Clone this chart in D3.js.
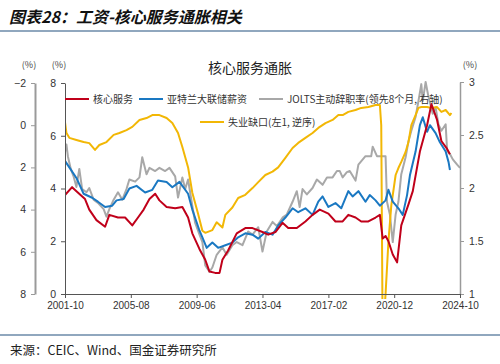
<!DOCTYPE html>
<html><head><meta charset="utf-8">
<script src="https://cdn.jsdelivr.net/npm/d3@7"></script>
<style>
body{margin:0;background:#fff;}
svg{display:block;font-family:"Noto Sans CJK SC","Noto Sans",sans-serif;}
</style></head>
<body><svg id="c" width="500" height="364"></svg>
<script>
// ---- data ----
const redDates = ["2001-10","2002-03","2002-06","2002-12","2003-03","2003-08","2004-02","2004-05","2004-11","2005-04","2005-09","2006-01","2006-05","2006-09","2007-01","2007-04","2007-09","2008-03","2008-08","2008-12","2009-03","2009-08","2009-12","2010-03","2010-07","2010-10","2010-12","2011-04","2011-10","2012-04","2012-09","2013-04","2013-08","2014-01","2014-06","2014-10","2015-04","2015-10","2016-03","2016-08","2017-02","2017-07","2017-12","2018-04","2018-09","2019-01","2019-06","2019-11","2020-02","2020-04","2020-06","2020-08","2020-11","2021-02","2021-05","2021-10","2022-01","2022-06","2022-11","2023-02","2023-06","2023-09","2024-01","2024-03"];
const redValues = [3.75,4.05,3.9,3.6,3.2,2.8,2.55,3.0,2.9,2.9,2.6,2.9,3.2,3.6,3.8,3.55,3.3,3.25,3.3,2.9,2.3,1.7,1.3,0.85,0.8,0.8,1.3,1.65,2.3,2.5,2.5,2.35,2.25,2.35,2.7,2.5,2.5,2.75,3.0,3.2,3.05,2.75,2.75,3.0,2.9,2.75,2.75,2.9,3.0,2.1,2.2,2.0,1.5,1.2,2.6,3.4,3.9,5.4,6.4,7.2,6.6,5.8,5.5,5.3];

const blueDates = ["2001-10","2002-01","2002-06","2002-11","2003-05","2003-09","2004-02","2004-07","2004-10","2005-03","2005-07","2005-12","2006-06","2006-11","2007-03","2007-09","2008-01","2008-06","2008-12","2009-03","2009-08","2009-10","2010-01","2010-05","2010-09","2011-02","2011-07","2011-11","2012-04","2012-09","2013-01","2013-06","2013-11","2014-03","2014-08","2015-01","2015-05","2015-10","2016-03","2016-07","2016-10","2017-02","2017-07","2017-11","2018-04","2018-07","2018-11","2019-04","2019-07","2019-11","2020-02","2020-06","2020-08","2020-11","2021-03","2021-06","2021-09","2021-11","2022-03","2022-06","2022-08","2022-11","2023-01","2023-05","2023-08","2023-12","2024-02","2024-03"];
const blueValues = [5.05,4.8,4.4,3.8,3.65,3.5,3.3,3.35,3.55,3.6,4.0,4.1,3.85,3.95,4.3,4.25,4.05,4.25,3.8,3.2,2.4,2.15,1.75,1.95,1.75,1.85,1.95,2.15,2.3,2.25,2.1,2.35,2.25,2.6,2.9,3.25,3.1,3.25,3.0,3.5,3.7,3.3,3.45,3.25,3.9,3.7,3.9,3.5,3.75,3.55,3.35,3.55,3.95,3.5,3.25,3.0,3.75,4.5,5.4,6.4,6.7,6.15,6.4,6.1,5.75,5.4,5.0,4.7];

const yellowDates = ["2001-10","2001-11","2002-01","2002-06","2002-11","2003-03","2003-07","2003-10","2004-03","2004-08","2004-12","2005-05","2005-09","2006-02","2006-07","2006-11","2007-04","2007-09","2008-01","2008-05","2008-08","2008-12","2009-03","2009-07","2009-10","2009-12","2010-05","2010-08","2010-12","2011-02","2011-07","2011-11","2012-04","2012-09","2013-01","2013-06","2013-11","2014-03","2014-08","2015-01","2015-05","2015-10","2016-03","2016-07","2016-12","2017-05","2017-09","2017-12","2018-04","2018-09","2019-01","2019-06","2019-11","2020-02","2020-03","2020-04","2020-05","2020-06","2020-08","2020-10","2021-01","2021-03","2021-05","2021-08","2021-10","2021-12","2022-03","2022-05","2022-07","2022-11","2023-02","2023-06","2023-09","2023-12","2024-03","2024-04"];
const yellowValues = [-0.15,0.37,0.6,0.7,0.8,0.85,1.17,0.94,0.8,0.46,0.37,0.23,0.08,-0.25,-0.34,-0.48,-0.48,-0.34,-0.1,0.37,1.03,2.0,3.2,4.2,5.0,5.1,4.97,4.6,4.85,4.25,3.9,3.45,3.3,2.98,2.7,2.36,2.2,2.0,1.55,1.08,0.84,0.6,0.37,0.13,-0.1,-0.25,-0.48,-0.48,-0.63,-0.72,-0.82,-0.86,-0.96,-0.96,0.0,10.3,9.0,8.0,5.5,3.8,2.36,2.03,1.74,1.27,0.8,0.0,-0.48,-0.82,-0.86,-0.86,-0.82,-0.86,-0.63,-0.72,-0.48,-0.58];

const grayDates = ["2001-10","2001-11","2001-12","2002-02","2002-04","2002-06","2002-08","2002-10","2003-01","2003-03","2003-06","2003-09","2004-01","2004-03","2004-05","2004-08","2004-11","2005-02","2005-05","2005-07","2005-11","2006-02","2006-04","2006-07","2006-09","2007-01","2007-04","2007-08","2007-11","2008-03","2008-05","2008-08","2008-10","2008-12","2009-03","2009-05","2009-08","2009-10","2009-12","2010-03","2010-05","2010-08","2010-12","2011-03","2011-07","2011-10","2012-02","2012-06","2012-09","2013-01","2013-04","2013-07","2013-11","2014-02","2014-06","2014-09","2015-01","2015-04","2015-06","2015-08","2015-11","2016-03","2016-06","2016-10","2017-01","2017-05","2017-08","2017-10","2017-12","2018-03","2018-05","2018-09","2018-11","2019-04","2019-08","2019-09","2019-12","2020-06","2020-07","2020-09","2020-11","2021-01","2021-03","2021-05","2021-08","2021-10","2021-12","2022-03","2022-05","2022-07","2022-08","2022-10","2022-12","2023-03","2023-05","2023-07","2023-09","2023-12","2024-01","2024-03","2024-05","2024-08","2024-10"];
const grayValues = [2.34,2.41,2.3,2.18,2.11,2.01,2.18,1.99,1.96,2.0,1.89,1.86,1.8,1.73,1.8,1.89,1.96,1.89,1.99,2.08,2.06,2.1,2.29,2.13,2.19,2.16,2.19,2.16,2.19,2.11,1.91,2.1,1.99,2.08,1.83,1.67,1.56,1.49,1.27,1.21,1.25,1.37,1.44,1.37,1.46,1.49,1.46,1.59,1.56,1.63,1.4,1.59,1.68,1.64,1.72,1.75,1.87,1.97,1.82,1.99,1.94,2.0,2.08,2.03,2.1,2.1,2.16,2.16,2.1,2.15,2.16,2.07,2.22,2.3,2.3,2.39,2.3,2.3,1.87,1.75,1.49,1.75,1.87,2.13,2.29,2.44,2.54,2.67,2.82,2.98,2.82,3.0,2.86,2.7,2.76,2.6,2.54,2.6,2.35,2.32,2.27,2.22,2.19];

const xTicks = ["2001-10","2005-08","2009-06","2013-04","2017-02","2020-12","2024-10"];
const leftOuterTicks = [-2,0,2,4,6,8];
const leftInnerTicks = [0,2,4,6,8];
const rightTicks = [1,1.5,2,2.5,3];
const seriesNames = ["核心服务","亚特兰大联储薪资","JOLTS主动辞职率(领先8个月, 右轴)","失业缺口(左1, 逆序)"];

// ---- drawing ----
const parse = d3.timeParse("%Y-%m");
const fmt = d3.timeFormat("%Y-%m");
const svg = d3.select("#c");
const x = d3.scaleTime().domain([parse("2001-10"), parse("2024-10")]).range([65, 460]);
const yL = d3.scaleLinear().domain([0, 8]).range([294, 83]);
const yO = d3.scaleLinear().domain([-2, 8]).range([83, 294]);
const yR = d3.scaleLinear().domain([1, 3]).range([294, 82]);

svg.append("rect").attr("width",500).attr("height",364).attr("fill","#fff");

// header
svg.append("text").attr("x",9).attr("y",23).attr("font-size",16).attr("font-weight","bold")
  .attr("font-style","italic").attr("fill","#111").text("图表28：工资-核心服务通胀相关");
svg.append("line").attr("x1",0).attr("x2",500).attr("y1",31).attr("y2",31)
  .attr("stroke","#6b8aa8").attr("stroke-width",1.5);
svg.append("line").attr("x1",0).attr("x2",500).attr("y1",335).attr("y2",335)
  .attr("stroke","#6b8aa8").attr("stroke-width",1.5);
svg.append("text").attr("x",10).attr("y",355).attr("font-size",12.5).attr("fill","#222")
  .text("来源：CEIC、Wind、国金证券研究所");

svg.append("text").attr("x",250).attr("y",73).attr("text-anchor","middle").attr("font-size",14)
  .attr("fill","#222").text("核心服务通胀");

// unit labels
const unit = (xx, yy) => svg.append("text").attr("x",xx).attr("y",yy).attr("text-anchor","middle")
  .attr("font-size",9).attr("fill","#444").text("(%)");
unit(29,68); unit(59,68); unit(470,68);

// clip
svg.append("clipPath").attr("id","clip").append("rect").attr("x",65).attr("y",80).attr("width",400).attr("height",219);

const g = svg.append("g").attr("clip-path","url(#clip)");
function mk(dates, vals, yScale){
  return dates.map((d,i)=>({d:parse(d), v:vals[i]}));
}
function draw(data, yScale, color, w){
  g.append("path").datum(data).attr("fill","none").attr("stroke",color).attr("stroke-width",w)
    .attr("stroke-linejoin","round")
    .attr("d", d3.line().x(p=>x(p.d)).y(p=>yScale(p.v)));
}
draw(mk(grayDates,grayValues), yR, "#a8a8a8", 2);
draw(mk(yellowDates,yellowValues), yO, "#f2b705", 2);
draw(mk(blueDates,blueValues), yL, "#1a78c2", 2);
draw(mk(redDates,redValues), yL, "#c0001a", 2);

// axes
function styleAxis(sel, color, width){
  sel.select(".domain").attr("stroke",color).attr("stroke-width",width);
  sel.selectAll(".tick line").attr("stroke",color);
  sel.selectAll(".tick text").attr("fill","#333").attr("font-size",10.5)
    .attr("font-family","'Liberation Sans','DejaVu Sans',sans-serif");
}
const aO = svg.append("g").attr("transform","translate(35,0)")
  .call(d3.axisLeft(yO).tickValues(leftOuterTicks).tickSize(4).tickSizeOuter(0).tickPadding(5));
styleAxis(aO, "#9a9a9a", 2);
const aI = svg.append("g").attr("transform","translate(65,0)")
  .call(d3.axisLeft(yL).tickValues(leftInnerTicks).tickSize(4).tickSizeOuter(0).tickPadding(5));
styleAxis(aI, "#555", 1);
const aR = svg.append("g").attr("transform","translate(460,0)")
  .call(d3.axisRight(yR).tickValues(rightTicks).tickSize(4).tickSizeOuter(0).tickPadding(5)
  .tickFormat(d => Number.isInteger(d) ? d : d.toFixed(1)));
styleAxis(aR, "#9a9a9a", 1.5);
const aB = svg.append("g").attr("transform","translate(0,294)")
  .call(d3.axisBottom(x).tickValues(xTicks.map(parse)).tickSize(4).tickSizeOuter(0).tickPadding(4)
  .tickFormat(fmt));
styleAxis(aB, "#555", 1);
aB.selectAll(".tick text").attr("font-size",10);

// legend
const leg = [
  {name:seriesNames[0], color:"#c0001a", x:65, y:99},
  {name:seriesNames[1], color:"#1a78c2", x:139, y:99},
  {name:seriesNames[2], color:"#a8a8a8", x:259, y:99},
  {name:seriesNames[3], color:"#f2b705", x:200, y:122}
];
leg.forEach(l=>{
  svg.append("line").attr("x1",l.x).attr("x2",l.x+24).attr("y1",l.y).attr("y2",l.y)
    .attr("stroke",l.color).attr("stroke-width",2);
  svg.append("text").attr("x",l.x+28).attr("y",l.y+3.5).attr("font-size",10).attr("fill","#333").text(l.name);
});
</script></body></html>
